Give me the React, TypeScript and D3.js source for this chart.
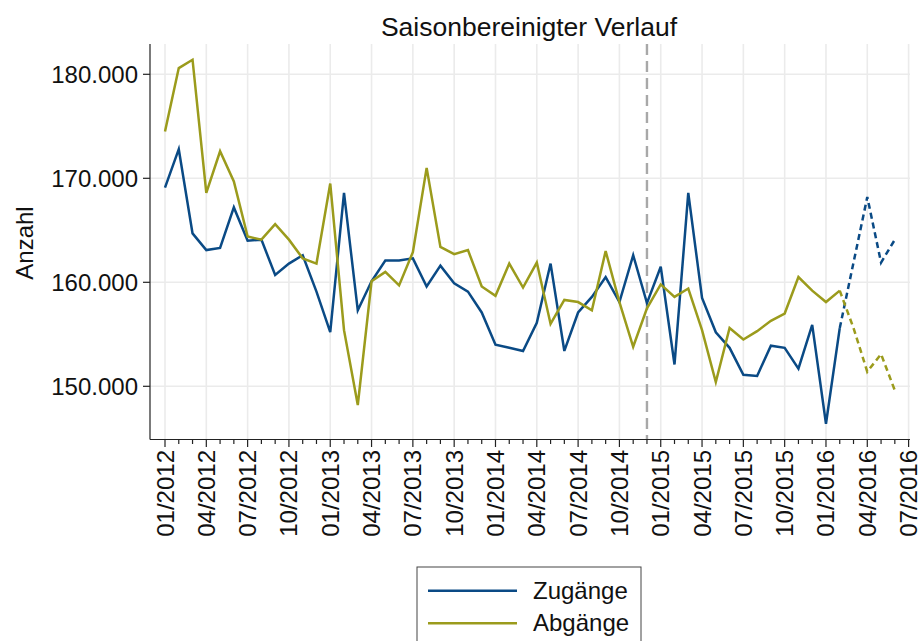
import React, { useRef, useEffect } from 'react';
import * as d3 from 'd3';

// monthly values, 01/2012 .. 06/2016 (index 0..53)
const zugaenge = [
  169100, 172800, 164700, 163100, 163300, 167200, 164000, 164100, 160700, 161800,
  162600, 159100, 155200, 168600, 157300, 160100, 162100, 162100, 162300, 159600,
  161600, 159900, 159100, 157100, 154000, 153700, 153400, 156100, 161800, 153400,
  157100, 158600, 160500, 158100, 162600, 158000, 161500, 152100, 168600, 158500,
  155200, 153700, 151100, 151000, 153900, 153700, 151700, 155900, 146400, 155600,
  161900, 168200, 161900, 164100,
];
const abgaenge = [
  174500, 180600, 181400, 168600, 172600, 169700, 164400, 164100, 165600, 164100,
  162300, 161800, 169500, 155400, 148200, 160100, 161000, 159700, 162900, 171000,
  163400, 162700, 163100, 159600, 158700, 161800, 159500, 161900, 156000, 158300,
  158100, 157300, 163000, 158100, 153800, 157500, 159800, 158600, 159400, 155400,
  150400, 155600, 154500, 155300, 156300, 157000, 160500, 159200, 158100, 159200,
  155600, 151400, 153100, 149600,
];
const lastObserved = 49; // 02/2016, after this the series are projected (dotted)
const breakMonth = 35;   // 12/2014, dashed marker
const xTickLabels = [
  '01/2012', '04/2012', '07/2012', '10/2012', '01/2013', '04/2013', '07/2013',
  '10/2013', '01/2014', '04/2014', '07/2014', '10/2014', '01/2015', '04/2015',
  '07/2015', '10/2015', '01/2016', '04/2016', '07/2016',
];
const yTicks = [150000, 160000, 170000, 180000];
const seriesNames = ['Zugänge', 'Abgänge'];
const seriesColors = ['#0a4a85', '#9b9b1c'];

const W = 921, H = 641;
const left = 150, right = 910, top = 44, bottom = 439.5;
const font = '"Liberation Sans", Arial, sans-serif';

const App = () => {
  const svgRef = useRef(null);

  const drawChart = (node) => {
    const svg = d3.select(node);
    svg.selectAll('*').remove();

    const x = d3.scaleLinear().domain([0, 54]).range([165, 908.6]);
    const y = d3.scaleLinear().domain([160000, 170000]).range([282.3, 178.3]);
    const de = d3.formatLocale({ decimal: ',', thousands: '.', grouping: [3], currency: ['', '€'] });
    const fmt = de.format(',');

    // grid
    const grid = svg.append('g');
    grid.selectAll('line.v')
      .data(d3.range(0, 55, 3))
      .join('line')
      .attr('x1', (d) => x(d)).attr('x2', (d) => x(d))
      .attr('y1', top).attr('y2', bottom)
      .attr('stroke', '#ebebeb').attr('stroke-width', 1.6);
    grid.selectAll('line.h')
      .data(yTicks)
      .join('line')
      .attr('x1', left).attr('x2', right)
      .attr('y1', (d) => y(d)).attr('y2', (d) => y(d))
      .attr('stroke', '#ebebeb').attr('stroke-width', 1.6);

    // dashed break marker
    svg.append('line')
      .attr('x1', x(breakMonth)).attr('x2', x(breakMonth))
      .attr('y1', top).attr('y2', bottom)
      .attr('stroke', '#a8a8a8').attr('stroke-width', 2.4)
      .attr('stroke-dasharray', '11,6');

    // axes
    svg.append('line')
      .attr('x1', left).attr('x2', left).attr('y1', top).attr('y2', bottom)
      .attr('stroke', '#222').attr('stroke-width', 1.2);
    svg.append('line')
      .attr('x1', left).attr('x2', right).attr('y1', bottom).attr('y2', bottom)
      .attr('stroke', '#222').attr('stroke-width', 1.2);

    svg.selectAll('line.ytick')
      .data(yTicks)
      .join('line')
      .attr('x1', left - 7).attr('x2', left)
      .attr('y1', (d) => y(d)).attr('y2', (d) => y(d))
      .attr('stroke', '#222').attr('stroke-width', 1.2);
    svg.selectAll('text.ylab')
      .data(yTicks)
      .join('text')
      .attr('x', 138).attr('y', (d) => y(d) + 8.5)
      .attr('text-anchor', 'end')
      .attr('font-family', font).attr('font-size', 24)
      .attr('fill', '#111')
      .text((d) => fmt(d));

    svg.selectAll('line.xtick')
      .data(d3.range(0, 55))
      .join('line')
      .attr('x1', (d) => x(d)).attr('x2', (d) => x(d))
      .attr('y1', bottom).attr('y2', (d) => bottom + (d % 3 === 0 ? 7.5 : 4.5))
      .attr('stroke', '#222').attr('stroke-width', 1.2);
    svg.selectAll('text.xlab')
      .data(xTickLabels)
      .join('text')
      .attr('transform', (d, i) => `translate(${x(i * 3) + 8.5},${450}) rotate(-90)`)
      .attr('text-anchor', 'end')
      .attr('font-family', font).attr('font-size', 24)
      .attr('fill', '#111')
      .text((d) => d);

    // titles
    svg.append('text')
      .attr('x', 529).attr('y', 36)
      .attr('text-anchor', 'middle')
      .attr('font-family', font).attr('font-size', 26.5)
      .attr('fill', '#111')
      .text('Saisonbereinigter Verlauf');
    svg.append('text')
      .attr('transform', `translate(33,${243}) rotate(-90)`)
      .attr('text-anchor', 'middle')
      .attr('font-family', font).attr('font-size', 24)
      .attr('fill', '#111')
      .text('Anzahl');

    // series
    const line = d3.line().x((d) => x(d[0])).y((d) => y(d[1]));
    [zugaenge, abgaenge].forEach((vals, k) => {
      const pts = vals.map((v, i) => [i, v]);
      svg.append('path')
        .attr('d', line(pts.slice(0, lastObserved + 1)))
        .attr('fill', 'none')
        .attr('stroke', seriesColors[k]).attr('stroke-width', 2.5)
        .attr('stroke-linejoin', 'miter');
      svg.append('path')
        .attr('d', line(pts.slice(lastObserved)))
        .attr('fill', 'none')
        .attr('stroke', seriesColors[k]).attr('stroke-width', 2.5)
        .attr('stroke-dasharray', '6,4');
    });

    // legend
    const lg = svg.append('g');
    lg.append('rect')
      .attr('x', 417).attr('y', 567).attr('width', 224).attr('height', 100)
      .attr('fill', '#fff').attr('stroke', '#444').attr('stroke-width', 1);
    seriesNames.forEach((name, k) => {
      const ly = 590.7 + k * 32.6;
      lg.append('line')
        .attr('x1', 428).attr('x2', 517).attr('y1', ly).attr('y2', ly)
        .attr('stroke', seriesColors[k]).attr('stroke-width', 2.5);
      lg.append('text')
        .attr('x', 533).attr('y', ly + 8)
        .attr('font-family', font).attr('font-size', 24)
        .attr('fill', '#111')
        .text(name);
    });
  };

  useEffect(() => {
    if (svgRef.current) {
      drawChart(svgRef.current);
    }
  }, [svgRef]);

  return (
    <svg
      ref={svgRef}
      width={W}
      height={H}
      style={{ position: 'absolute', left: 0, top: 0, background: '#fff' }}
    />
  );
};

export default App;
